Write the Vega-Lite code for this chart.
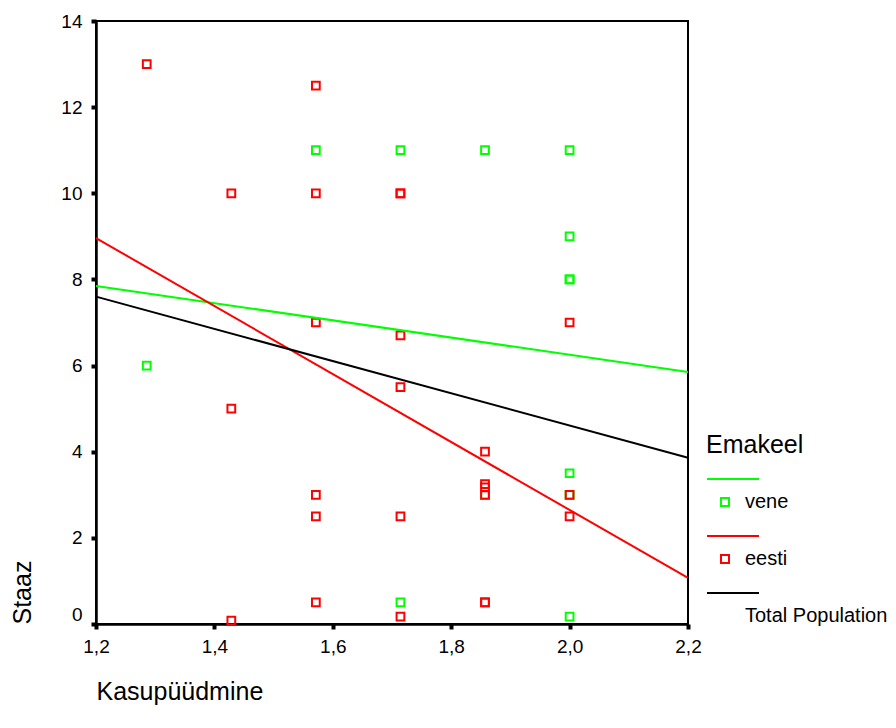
{
  "$schema": "https://vega.github.io/schema/vega-lite/v6.json",
  "width": 592,
  "height": 603,
  "autosize": "none",
  "padding": {"left": 96, "top": 21, "right": 208, "bottom": 104},
  "background": "white",
  "config": {
    "font": "Liberation Sans",
    "view": {"stroke": "black", "strokeWidth": 2},
    "axis": {"grid": false, "labelFlush": false, "domainColor": "black", "domainWidth": 2.5, "tickColor": "black", "tickWidth": 4, "tickSize": 5, "labelColor": "black", "labelFont": "Liberation Sans", "labelFontSize": 19, "titleFont": "Liberation Sans", "titleFontWeight": "normal", "titleColor": "black", "titleFontSize": 25}
  },
  "datasets": {
    "pts": [
      {"x": 1.2857, "y": 6, "g": "vene"},
      {"x": 1.5714, "y": 11, "g": "vene"},
      {"x": 1.7143, "y": 11, "g": "vene"},
      {"x": 1.8571, "y": 11, "g": "vene"},
      {"x": 2.0, "y": 11, "g": "vene"},
      {"x": 2.0, "y": 9, "g": "vene"},
      {"x": 2.0, "y": 8, "g": "vene"},
      {"x": 2.0, "y": 8, "g": "vene"},
      {"x": 2.0, "y": 3.5, "g": "vene"},
      {"x": 2.0, "y": 3, "g": "vene"},
      {"x": 1.8571, "y": 3, "g": "vene"},
      {"x": 1.7143, "y": 0.5, "g": "vene"},
      {"x": 2.0, "y": 0.17, "g": "vene"},
      {"x": 1.2857, "y": 13, "g": "eesti"},
      {"x": 1.4286, "y": 10, "g": "eesti"},
      {"x": 1.4286, "y": 5, "g": "eesti"},
      {"x": 1.4286, "y": 0.08, "g": "eesti"},
      {"x": 1.5714, "y": 12.5, "g": "eesti"},
      {"x": 1.5714, "y": 10, "g": "eesti"},
      {"x": 1.5714, "y": 7, "g": "eesti"},
      {"x": 1.5714, "y": 3, "g": "eesti"},
      {"x": 1.5714, "y": 2.5, "g": "eesti"},
      {"x": 1.5714, "y": 0.5, "g": "eesti"},
      {"x": 1.7143, "y": 10, "g": "eesti"},
      {"x": 1.7143, "y": 10, "g": "eesti"},
      {"x": 1.7143, "y": 6.7, "g": "eesti"},
      {"x": 1.7143, "y": 5.5, "g": "eesti"},
      {"x": 1.7143, "y": 2.5, "g": "eesti"},
      {"x": 1.7143, "y": 0.17, "g": "eesti"},
      {"x": 1.8571, "y": 4, "g": "eesti"},
      {"x": 1.8571, "y": 3.25, "g": "eesti"},
      {"x": 1.8571, "y": 3.17, "g": "eesti"},
      {"x": 1.8571, "y": 3, "g": "eesti"},
      {"x": 1.8571, "y": 0.5, "g": "eesti"},
      {"x": 1.8571, "y": 0.5, "g": "eesti"},
      {"x": 2.0, "y": 7, "g": "eesti"},
      {"x": 2.0, "y": 3, "g": "eesti"},
      {"x": 2.0, "y": 2.5, "g": "eesti"}
    ],
    "fits": [
      {"x": 1.2, "y": 7.85, "g": "vene"},
      {"x": 2.2, "y": 5.85, "g": "vene"},
      {"x": 1.2, "y": 8.96, "g": "eesti"},
      {"x": 2.2, "y": 1.07, "g": "eesti"},
      {"x": 1.2, "y": 7.6, "g": "Total Population"},
      {"x": 2.2, "y": 3.86, "g": "Total Population"}
    ]
  },
  "encoding": {
    "x": {"field": "x", "type": "quantitative", "scale": {"domain": [1.2, 2.2], "nice": false, "zero": false},
      "axis": {"values": [1.2, 1.4, 1.6, 1.8, 2.0, 2.2], "labelExpr": "replace(format(datum.value, '.1f'), '.', ',')", "labelPadding": 8, "title": "Kasupüüdmine", "titleAnchor": "start", "titleAlign": "left", "titleX": 0, "titleY": 75, "titleBaseline": "alphabetic"}},
    "y": {"field": "y", "type": "quantitative", "scale": {"domain": [0, 14], "nice": false},
      "axis": {"values": [0, 2, 4, 6, 8, 10, 12, 14], "labelPadding": 9, "labelBaseline": {"condition": {"test": "datum.value === 0", "value": "bottom"}, "value": "middle"}, "title": "Staaz", "titleAngle": -90, "titleAlign": "left", "titleBaseline": "alphabetic", "titleX": -66, "titleY": 603}},
    "color": {"field": "g", "type": "nominal",
      "scale": {"domain": ["vene", "eesti", "Total Population"], "range": ["#00ff00", "#ff0000", "#000000"]},
      "legend": {"title": "Emakeel", "orient": "none", "legendX": 610, "legendY": 412, "padding": 0,
        "titleFontSize": 25, "titleFontWeight": "normal", "titleColor": "black", "titlePadding": 33,
        "labelFontSize": 20, "labelColor": "black", "labelOffset": 17, "rowPadding": 20,
        "symbolSize": 400, "symbolStrokeWidth": 2, "symbolFillColor": "transparent",
        "encode": {"symbols": {"update": {"shape": {"signal": "datum.value === 'Total Population' ? 'M-1,-2.3L4.2,-2.3' : 'M-1,-2.3L4.2,-2.3M0.4,-0.4L1.2,-0.4L1.2,0.4L0.4,0.4Z'"}, "fill": {"value": "transparent"}}}}}}
  },
  "layer": [
    {"data": {"name": "pts"}, "mark": {"type": "point", "shape": "square", "filled": false, "size": 60, "strokeWidth": 2, "opacity": 1}},
    {"data": {"name": "fits"}, "mark": {"type": "line", "strokeWidth": 2}, "encoding": {"detail": {"field": "g"}}}
  ]
}
